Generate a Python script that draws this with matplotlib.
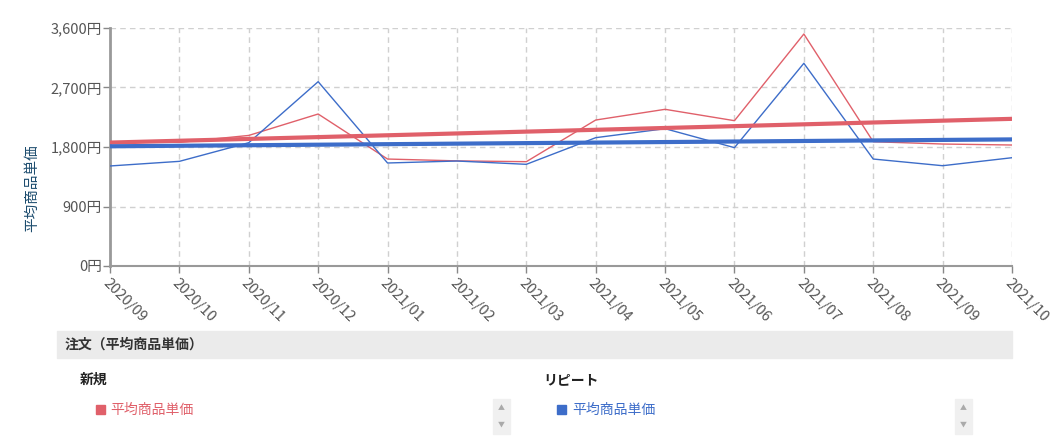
import matplotlib.pyplot as plt
import matplotlib.patches as mpatches
import numpy as np

plt.rcParams['font.family'] = ['Noto Sans CJK JP', 'DejaVu Sans']

months = ['2020/09', '2020/10', '2020/11', '2020/12', '2021/01', '2021/02', '2021/03',
          '2021/04', '2021/05', '2021/06', '2021/07', '2021/08', '2021/09', '2021/10']
new_price = [1880, 1870, 1975, 2299, 1618, 1590, 1578, 2208, 2370, 2198, 3509, 1880, 1845, 1830]
repeat_price = [1513, 1583, 1865, 2788, 1558, 1588, 1538, 1941, 2077, 1790, 3066, 1618, 1517, 1638]
y_ticks = [0, 900, 1800, 2700, 3600]

RED = '#e0606a'
BLUE = '#3d6dc9'
TXT = '#555555'

W, H = 1061, 448
fig = plt.figure(figsize=(W / 100, H / 100), dpi=100)
ax = fig.add_axes([110 / W, 1 - 266 / H, (1012 - 110) / W, (266 - 28) / H])

x = np.arange(len(months))

# thin monthly lines
ax.plot(x, new_price, color=RED, lw=1, zorder=3)
ax.plot(x, repeat_price, color=BLUE, lw=1, zorder=3)

# linear trend lines
for vals, c in [(new_price, RED), (repeat_price, BLUE)]:
    k, b = np.polyfit(x, vals, 1)
    ax.plot(x, k * x + b, color=c, lw=3, zorder=4, solid_capstyle='butt')

ax.set_xlim(0, len(months) - 1)
ax.set_ylim(0, 3600)
ax.set_yticks(y_ticks)
ax.set_yticklabels([f'{v:,}円' for v in y_ticks])
ax.set_xticks(x)
ax.set_xticklabels(months, rotation=-45, ha='left', va='top', rotation_mode='anchor')

ax.grid(True, color='#d0d0d0', lw=1, linestyle=(0, (4, 3)))
ax.set_axisbelow(True)
for s in ['top', 'right']:
    ax.spines[s].set_visible(False)
ax.spines['left'].set_color('#999999')
ax.spines['left'].set_linewidth(2)
ax.spines['bottom'].set_color('#999999')
ax.spines['bottom'].set_linewidth(1.5)
ax.tick_params(axis='both', colors='#888888', labelcolor=TXT, labelsize=10.5, length=5, width=1)
ax.tick_params(axis='x', pad=2)
ax.tick_params(axis='y', pad=1)

ax.set_ylabel('平均商品単価', color='#1c4c6e', fontsize=10.5)
ax.yaxis.set_label_coords(-0.079, 0.328)

# summary panel below the chart
fig.patches.append(mpatches.Rectangle((57 / W, 1 - 358 / H), (1012 - 57) / W, 27 / H,
                                      transform=fig.transFigure, color='#ebebeb', zorder=0))
fig.text(65 / W, 1 - 345 / H, '注文（平均商品単価）', fontsize=10, fontweight='bold',
         color='#333333', va='center')
fig.text(80 / W, 1 - 380 / H, '新規', fontsize=10, fontweight='bold', color='#222222', va='center')
fig.text(543 / W, 1 - 380 / H, 'リピート', fontsize=10, fontweight='bold', color='#222222', va='center')

for sq_x, txt_x, c in [(96, 110, RED), (557, 572, BLUE)]:
    fig.patches.append(mpatches.Rectangle((sq_x / W, 1 - 414 / H), 9 / W, 9 / H,
                                          transform=fig.transFigure, color=c))
    fig.text(txt_x / W, 1 - 410 / H, '平均商品単価', fontsize=10, color=c, va='center')

# scroll widgets
for sx in [493, 955]:
    fig.patches.append(mpatches.Rectangle((sx / W, 1 - 434 / H), 17 / W, 35 / H,
                                          transform=fig.transFigure, color='#f0f0f0'))
    fig.text((sx + 8.5) / W, 1 - 408 / H, '▲', fontsize=5, color='#aaaaaa', ha='center', va='center')
    fig.text((sx + 8.5) / W, 1 - 425 / H, '▼', fontsize=5, color='#aaaaaa', ha='center', va='center')

fig.savefig('out.png', dpi=100)
